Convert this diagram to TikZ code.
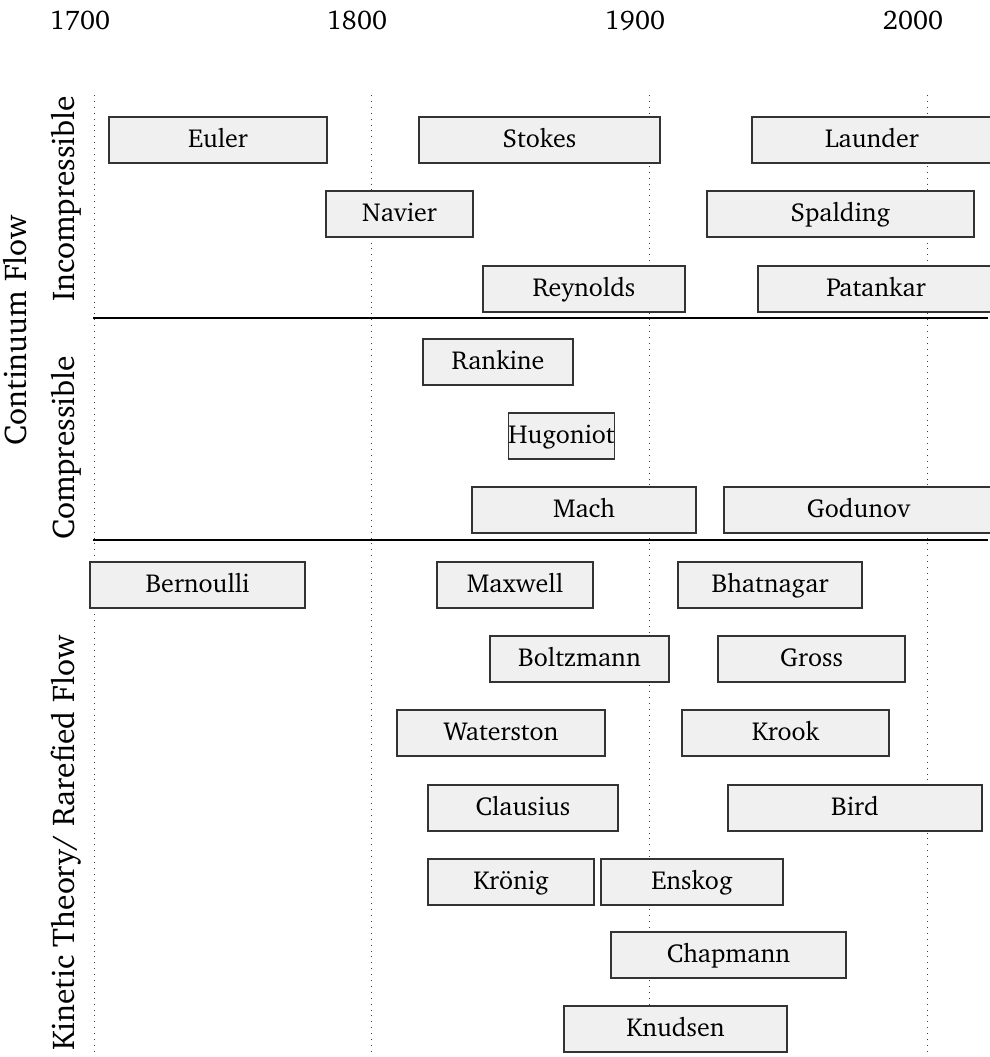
\documentclass[tikz,border=0pt]{standalone}
\usepackage[T1]{fontenc}
\usepackage{charter}
\begin{document}
\begin{tikzpicture}[x=1pt,y=-1pt,
  pbox/.style={draw=black!80, line width=1.1pt, fill=black!6, inner sep=0pt, minimum height=46pt, text height=20pt, text depth=6pt, font=\fontsize{26}{31}\selectfont},
  grid/.style={draw=black!75, line width=0.9pt, dash pattern=on 0.9pt off 5pt},
  sep/.style={draw=black, line width=2pt},
  yearlab/.style={anchor=base, font=\fontsize{27}{32}\selectfont},
  sidelab/.style={anchor=base, rotate=90, font=\fontsize{31.5}{37}\selectfont}]
\useasboundingbox (0,0) rectangle (990,1057);
% grid
\coordinate (g1t) at (94,95);   \coordinate (g1b) at (94,1057);
\coordinate (g2t) at (371,95);  \coordinate (g2b) at (371,1057);
\coordinate (g3t) at (649,95);  \coordinate (g3b) at (649,1057);
\coordinate (g4t) at (927,95);  \coordinate (g4b) at (927,1057);
\draw[grid] (g1t) -- (g1b);
\draw[grid] (g2t) -- (g2b);
\draw[grid] (g3t) -- (g3b);
\draw[grid] (g4t) -- (g4b);
% year labels
\node[yearlab] (y1700) at (80,30) {1700};
\node[yearlab] (y1800) at (357,30) {1800};
\node[yearlab] (y1900) at (635,30) {1900};
\node[yearlab] (y2000) at (913,30) {2000};
% separators
\coordinate (s1a) at (93,318); \coordinate (s1b) at (988,318);
\coordinate (s2a) at (93,540); \coordinate (s2b) at (988,540);
\draw[sep] (s1a) -- (s1b);
\draw[sep] (s2a) -- (s2b);
% side labels
\node[sidelab] (cont) at (26,330) {Continuum Flow};
\node[sidelab] (incomp) at (74,199) {Incompressible};
\node[sidelab] (comp) at (74,448) {Compressible};
\node[sidelab] (kin) at (74,843) {Kinetic Theory/ Rarefied Flow};
% boxes
\node[pbox, minimum width=218pt] (euler) at (218,140) {Euler};
\node[pbox, minimum width=241pt] (stokes) at (539.5,140) {Stokes};
\node[pbox, minimum width=240pt] (launder) at (872,140) {Launder};
\node[pbox, minimum width=147pt] (navier) at (399.5,214) {Navier};
\node[pbox, minimum width=267pt] (spalding) at (840.5,214) {Spalding};
\node[pbox, minimum width=202pt] (reynolds) at (584,289) {Reynolds};
\node[pbox, minimum width=236pt] (patankar) at (876,289) {Patankar};
\node[pbox, minimum width=150pt] (rankine) at (498,362) {Rankine};
\node[pbox, minimum width=105pt] (hugoniot) at (561.5,436) {Hugoniot};
\node[pbox, minimum width=224pt] (mach) at (584,510) {Mach};
\node[pbox, minimum width=269pt] (godunov) at (858.5,510) {Godunov};
\node[pbox, minimum width=215pt] (bernoulli) at (197.5,585) {Bernoulli};
\node[pbox, minimum width=156pt] (maxwell) at (515,585) {Maxwell};
\node[pbox, minimum width=184pt] (bhatnagar) at (770,585) {Bhatnagar};
\node[pbox, minimum width=179pt] (boltzmann) at (579.5,659) {Boltzmann};
\node[pbox, minimum width=187pt] (gross) at (811.5,659) {Gross};
\node[pbox, minimum width=208pt] (waterston) at (501,733) {Waterston};
\node[pbox, minimum width=207pt] (krook) at (785.5,733) {Krook};
\node[pbox, minimum width=190pt] (clausius) at (523,808) {Clausius};
\node[pbox, minimum width=254pt] (bird) at (855,808) {Bird};
\node[pbox, minimum width=166pt] (kronig) at (511,882) {Krönig};
\node[pbox, minimum width=182pt] (enskog) at (692,882) {Enskog};
\node[pbox, minimum width=235pt] (chapmann) at (728.5,955) {Chapmann};
\node[pbox, minimum width=223pt] (knudsen) at (675.5,1029) {Knudsen};
\end{tikzpicture}
\end{document}
